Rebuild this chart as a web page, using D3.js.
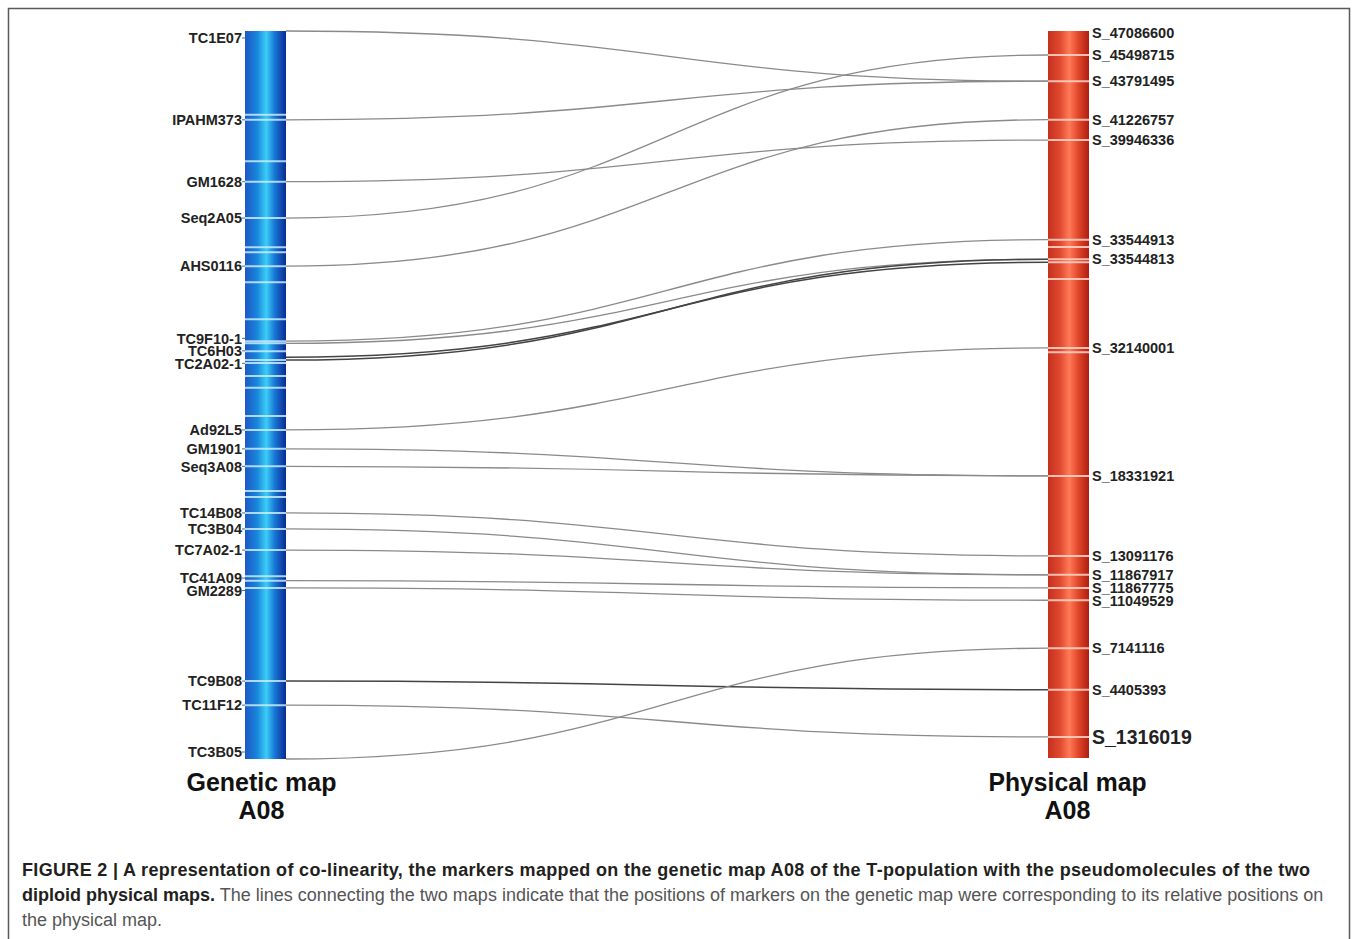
<!DOCTYPE html>
<html>
<head>
<meta charset="utf-8">
<script src="https://cdn.jsdelivr.net/npm/d3@7/dist/d3.min.js"></script>
<style>
  body { margin: 0; background: #fff; }
  svg { display: block; }
  .marker-label { font-family: "Liberation Sans", Arial, sans-serif; font-weight: bold; fill: #222; }
  .map-title { font-family: "Liberation Sans", Arial, sans-serif; font-weight: bold; fill: #111; }
  .caption { font-family: "Liberation Sans", Arial, sans-serif; font-size: 18px; fill: #555; }
  .caption .strong { font-weight: bold; fill: #231f20; }
</style>
</head>
<body>
<div id="colinearity"></div>
<script>
// Genetic map A08: marker names and relative position along the linkage group (0-100)
var geneticMarkers = ["TC1E07", "IPAHM373", "GM1628", "Seq2A05", "AHS0116", "TC9F10-1", "TC6H03",
  "TC2A02-1", "Ad92L5", "GM1901", "Seq3A08", "TC14B08", "TC3B04", "TC7A02-1", "TC41A09",
  "GM2289", "TC9B08", "TC11F12", "TC3B05"];
var geneticPos = [0, 12.2, 20.7, 25.7, 32.3, 42.6, 44.0, 45.2, 54.8, 57.4, 59.8, 66.2, 68.4,
  71.3, 75.5, 76.5, 89.3, 92.6, 100];
// extra (unlabelled) loci drawn as bands on the genetic map
var geneticBands = [11.5, 17.9, 29.7, 30.4, 34.5, 39.6, 42.9, 45.6, 47.4, 49.0, 52.9, 63.2,
  64.0, 74.9];

// Physical map A08: pseudomolecule positions and relative position along the chromosome (0-100)
var physicalMarkers = ["S_47086600", "S_45498715", "S_43791495", "S_41226757", "S_39946336",
  "S_33544913", "S_33544813", "S_32140001", "S_18331921", "S_13091176", "S_11867917",
  "S_11867775", "S_11049529", "S_7141116", "S_4405393", "S_1316019"];
var physicalPos = [0, 3.3, 6.9, 12.2, 15.0, 28.7, 31.4, 43.6, 61.2, 72.2, 74.8, 76.6, 78.3,
  84.9, 90.6, 97.1];
var physicalBands = [29.7, 31.8, 34.1, 44.2];

// Co-linearity links: genetic position -> physical position
var linkFrom = [0, 12.2, 20.7, 25.7, 32.3, 42.6, 42.9, 44.8, 45.2, 54.8, 57.4, 59.8, 66.2,
  68.4, 71.3, 75.5, 76.5, 89.3, 92.6, 100];
var linkTo = [6.9, 6.9, 15.0, 3.3, 12.2, 28.7, 31.4, 31.8, 31.4, 43.6, 61.2, 61.2, 72.2,
  74.8, 74.8, 76.6, 78.3, 90.6, 97.1, 84.9];
var darkLinks = [7, 8, 17];

var titles = [["Genetic map", "A08"], ["Physical map", "A08"]];
var captionBold = "FIGURE 2 | A representation of co-linearity, the markers mapped on the genetic map A08 of the T-population with the pseudomolecules of the two";
var captionBold2 = "diploid physical maps.";
var captionRest = " The lines connecting the two maps indicate that the positions of markers on the genetic map were corresponding to its relative positions on";
var captionLast = "the physical map.";

// Spread labels so they do not collide: overlapping labels are grouped
// and each group is centred on the mean of its wanted positions.
var spreadLabels = function(ys, gap) {
  var groups = ys.map((y, i) => ({ first: i, n: 1, sum: y }));
  var place = g => g.sum / g.n - (gap * (g.n - 1)) / 2;
  var merged = true;
  while (merged) {
    merged = false;
    for (var i = 1; i < groups.length; i++) {
      var a = groups[i - 1];
      var b = groups[i];
      if (place(b) - (place(a) + gap * (a.n - 1)) < gap) {
        groups.splice(i - 1, 2, { first: a.first, n: a.n + b.n, sum: a.sum + b.sum });
        merged = true;
        break;
      }
    }
  }
  var out = [];
  groups.forEach(function(g) {
    for (var k = 0; k < g.n; k++) out[g.first + k] = place(g) + k * gap;
  });
  return out;
};

var render = function() {
  var width = 1358;
  var height = 939;

  var barTop = 31;
  var barBottom = 759;
  var barWidth = 41;
  var leftX = 245;
  var rightX = 1048;

  var containerElement = d3.select("#colinearity");
  containerElement.html("");

  var svg = containerElement
    .append("svg")
    .attr("width", width)
    .attr("height", height);

  var defs = svg.append("defs");

  var blue = defs.append("linearGradient").attr("id", "blue-bar");
  [["0%", "#1d58c4"], ["30%", "#1a86dc"], ["52%", "#3ccdf6"], ["72%", "#1878d6"], ["100%", "#0b2b94"]]
    .forEach(s => blue.append("stop").attr("offset", s[0]).attr("stop-color", s[1]));

  var red = defs.append("linearGradient").attr("id", "red-bar");
  [["0%", "#c4301c"], ["30%", "#e04a30"], ["52%", "#ff7a58"], ["75%", "#de4428"], ["100%", "#b01e10"]]
    .forEach(s => red.append("stop").attr("offset", s[0]).attr("stop-color", s[1]));

  var yGenetic = d3.scaleLinear().domain([0, 100]).range([barTop, barBottom]);
  var yPhysical = d3.scaleLinear().domain([0, 100]).range([barTop, barBottom - 1]);

  // Frame
  svg.append("path")
    .attr("d", "M8.5,939 V8.5 H1349.5 V939")
    .attr("fill", "none")
    .attr("stroke", "#5a5a5a")
    .attr("stroke-width", 1.5);

  // Links between the maps
  var link = d3.linkHorizontal();
  svg.append("g")
    .attr("class", "links")
    .selectAll("path")
    .data(linkFrom)
    .enter()
    .append("path")
    .attr("fill", "none")
    .attr("stroke", (d, i) => darkLinks.indexOf(i) >= 0 ? "#444" : "#8a8a8a")
    .attr("stroke-width", (d, i) => darkLinks.indexOf(i) >= 0 ? 1.5 : 1.3)
    .attr("d", (d, i) => link({
      source: [leftX + barWidth, yGenetic(d)],
      target: [rightX, yPhysical(linkTo[i])]
    }));

  // Bars
  svg.append("rect")
    .attr("x", leftX).attr("y", barTop)
    .attr("width", barWidth).attr("height", barBottom - barTop)
    .attr("fill", "url(#blue-bar)");

  svg.append("rect")
    .attr("x", rightX).attr("y", barTop)
    .attr("width", barWidth).attr("height", barBottom - 1 - barTop)
    .attr("fill", "url(#red-bar)");

  // Bands
  var drawBands = function(values, scale, x, color) {
    svg.append("g")
      .selectAll("line")
      .data(values)
      .enter()
      .append("line")
      .attr("x1", x).attr("x2", x + barWidth)
      .attr("y1", d => scale(d)).attr("y2", d => scale(d))
      .attr("stroke", color)
      .attr("stroke-width", 2)
      .attr("opacity", 0.85);
  };

  drawBands(geneticPos.slice(1, -1).concat(geneticBands), yGenetic, leftX, "#c8ecff");
  drawBands(physicalPos.slice(1).concat(physicalBands), yPhysical, rightX, "#ffd6cc");

  // Marker labels
  var gLabelY = spreadLabels(geneticPos.map(d => Math.min(Math.max(yGenetic(d), barTop + 7), barBottom - 7)), 12.5);
  var gLabels = svg.append("g").attr("class", "genetic-labels");

  gLabels.selectAll("text")
    .data(geneticMarkers)
    .enter()
    .append("text")
    .attr("class", "marker-label")
    .attr("x", leftX - 3)
    .attr("y", (d, i) => gLabelY[i])
    .attr("dy", "0.36em")
    .attr("text-anchor", "end")
    .style("font-size", "14.5px")
    .text(d => d);

  gLabels.selectAll("line")
    .data(geneticPos)
    .enter()
    .append("line")
    .attr("x1", leftX - 3).attr("x2", leftX)
    .attr("y1", (d, i) => gLabelY[i]).attr("y2", (d, i) => gLabelY[i])
    .attr("stroke", "#666");

  var pLabelY = spreadLabels(physicalPos.map(d => Math.max(yPhysical(d), barTop + 2)), 13);

  svg.append("g")
    .attr("class", "physical-labels")
    .selectAll("text")
    .data(physicalMarkers)
    .enter()
    .append("text")
    .attr("class", "marker-label")
    .attr("x", rightX + barWidth + 3)
    .attr("y", (d, i) => pLabelY[i])
    .attr("dy", "0.36em")
    .style("font-size", (d, i) => i === physicalMarkers.length - 1 ? "19.5px" : "14.5px")
    .text(d => d);

  // Map titles
  var titleX = [leftX + barWidth / 2 - 4, rightX + barWidth / 2 - 1];
  var titleLen = [[150, 46], [158, 46]];
  titles.forEach(function(t, k) {
    t.forEach(function(s, j) {
      svg.append("text")
        .attr("class", "map-title")
        .attr("x", titleX[k] - titleLen[k][j] / 2)
        .attr("y", 791 + j * 28)
        .attr("textLength", titleLen[k][j])
        .attr("lengthAdjust", "spacingAndGlyphs")
        .style("font-size", "26px")
        .text(s);
    });
  });

  // Caption
  var caption = svg.append("text").attr("class", "caption");
  caption.append("tspan").attr("class", "strong").attr("x", 22).attr("y", 876)
    .attr("textLength", 1288).attr("lengthAdjust", "spacing").text(captionBold);
  caption.append("tspan").attr("class", "strong").attr("x", 22).attr("y", 901).text(captionBold2);
  caption.append("tspan").text(captionRest);
  caption.append("tspan").attr("x", 22).attr("y", 926).text(captionLast);
};

window.onload = render;
</script>
</body>
</html>
